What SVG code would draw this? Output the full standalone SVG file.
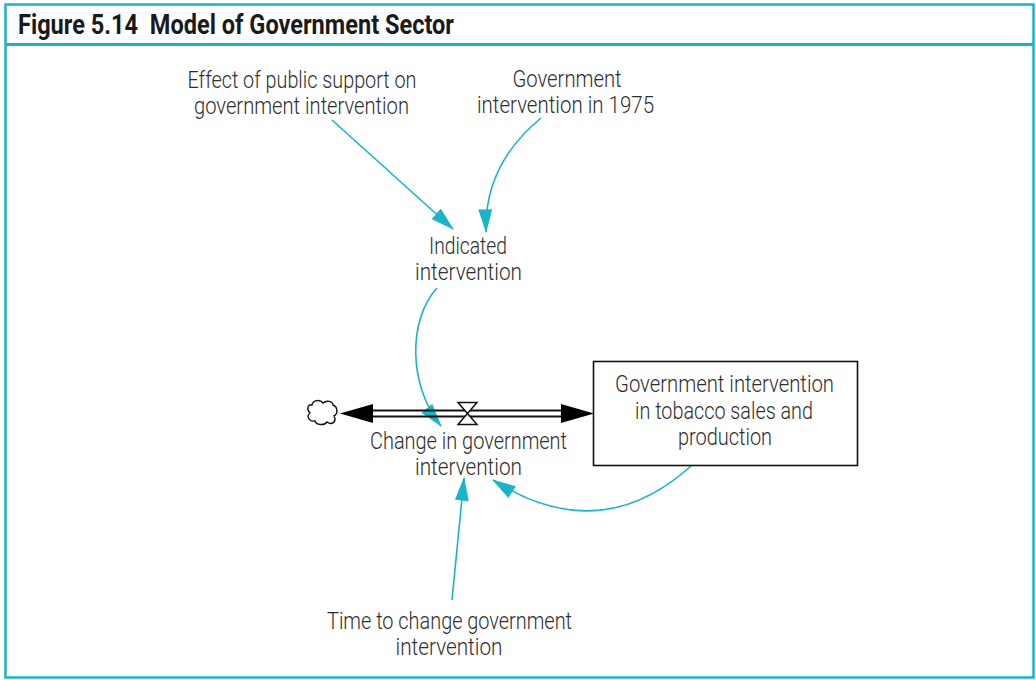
<svg xmlns="http://www.w3.org/2000/svg" width="1036" height="680" viewBox="0 0 1036 680">
<style>
.frame{fill:none;stroke:#1ab4c8;stroke-width:2.5}
.lbl{font-family:Roboto,"Liberation Sans",sans-serif;font-weight:300;font-size:24px;fill:#2e2e2e;text-anchor:middle}
.title{font-family:Roboto,"Liberation Sans",sans-serif;font-weight:700;font-size:27px;fill:#1a1a1a}
.link{fill:none;stroke:#1ab4c8;stroke-width:1.6}
.pipe{stroke:#111;stroke-width:1.8;fill:none}
</style>
<defs>
<marker id="ah" markerUnits="userSpaceOnUse" markerWidth="24" markerHeight="14" viewBox="0 0 22 13" refX="21" refY="6.5" orient="auto">
<path d="M0,0 L22,6.5 L0,13 z" fill="#1ab4c8"/>
</marker>
</defs>
<rect width="1036" height="680" fill="#fff"/>
<g id="frame">
<rect class="frame" x="5.5" y="4.5" width="1028" height="673"/>
<line x1="5" y1="44.5" x2="1034" y2="44.5" stroke="#1ab4c8" stroke-width="3"/>
<text class="title" x="18" y="34" textLength="436" lengthAdjust="spacingAndGlyphs">Figure 5.14&#160; Model of Government Sector</text>
</g>
<g id="connectors">
<path class="link" d="M332,120 L453,229" marker-end="url(#ah)"/>
<path class="link" d="M541,118 Q484,165 486,232" marker-end="url(#ah)"/>
<path class="link" d="M437,288 C408,320 408,385 441,426" marker-end="url(#ah)"/>
<path class="link" d="M691,466 Q600,548 493,480" marker-end="url(#ah)"/>
<path class="link" d="M452,600 L464,478" marker-end="url(#ah)"/>
</g>
<g id="flow">
<line class="pipe" x1="372" y1="410.5" x2="563" y2="410.5"/>
<line class="pipe" x1="372" y1="416.5" x2="563" y2="416.5"/>
<path d="M340,413.5 L373,404 L373,423 z" fill="#000"/>
<path d="M594,413.5 L561,404 L561,423 z" fill="#000"/>
<path d="M458,402.5 L477,402.5 L467.5,413.5 z M458,424.5 L477,424.5 L467.5,413.5 z" fill="#fff" stroke="#111" stroke-width="1.5" stroke-linejoin="miter"/>
</g>
<g id="cloud">
<path d="M312,405 C313,400 320,399 323,403 C326,400 333,401 333,405 C338,407 338,414 334,416 C337,421 332,426 327,422 C324,426 316,425 315,421 C309,422 306,416 310,413 C306,409 308,404 312,405 z" fill="#fff" stroke="#111" stroke-width="1.4"/>
</g>
<g id="effect">
<text class="lbl" x="302" y="88" textLength="229" lengthAdjust="spacingAndGlyphs">Effect of public support on</text>
<text class="lbl" x="301.5" y="114" textLength="215" lengthAdjust="spacingAndGlyphs">government intervention</text>
</g>
<g id="gov1975">
<text class="lbl" x="567" y="87" textLength="109" lengthAdjust="spacingAndGlyphs">Government</text>
<text class="lbl" x="565.5" y="113" textLength="177" lengthAdjust="spacingAndGlyphs">intervention in 1975</text>
</g>
<g id="indicated">
<text class="lbl" x="468" y="254" textLength="78" lengthAdjust="spacingAndGlyphs">Indicated</text>
<text class="lbl" x="468.5" y="280" textLength="107" lengthAdjust="spacingAndGlyphs">intervention</text>
</g>
<g id="change">
<text class="lbl" x="468.5" y="449" textLength="197" lengthAdjust="spacingAndGlyphs">Change in government</text>
<text class="lbl" x="468.5" y="475" textLength="107" lengthAdjust="spacingAndGlyphs">intervention</text>
</g>
<g id="stock">
<rect x="593.5" y="361.5" width="264" height="104" fill="#fff" stroke="#111" stroke-width="1.6"/>
<text class="lbl" x="724.5" y="392" textLength="219" lengthAdjust="spacingAndGlyphs">Government intervention</text>
<text class="lbl" x="724" y="419" textLength="178" lengthAdjust="spacingAndGlyphs">in tobacco sales and</text>
<text class="lbl" x="725" y="445" textLength="94" lengthAdjust="spacingAndGlyphs">production</text>
</g>
<g id="timechange">
<text class="lbl" x="449.5" y="629" textLength="245" lengthAdjust="spacingAndGlyphs">Time to change government</text>
<text class="lbl" x="449" y="655" textLength="107" lengthAdjust="spacingAndGlyphs">intervention</text>
</g>
</svg>
